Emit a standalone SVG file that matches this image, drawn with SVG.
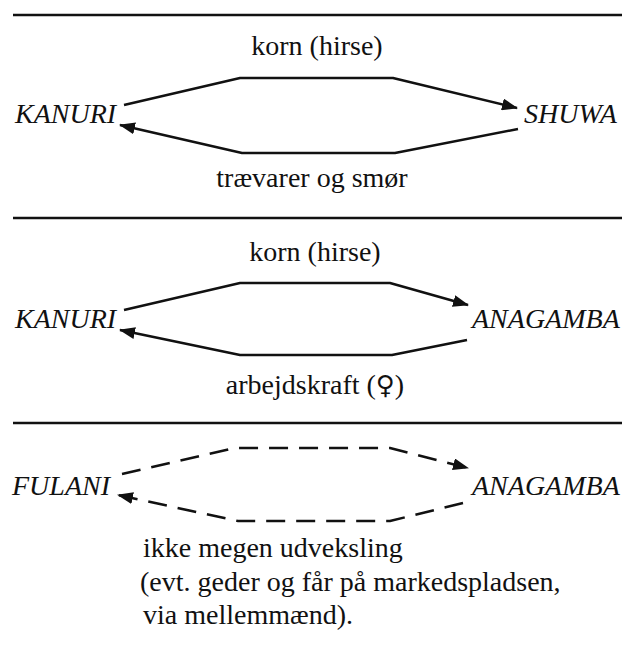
<svg xmlns="http://www.w3.org/2000/svg" width="628" height="646" viewBox="0 0 628 646">
  <style>
    .rule { stroke: #111; stroke-width: 2.5; }
    .flow { fill: none; stroke: #111; stroke-width: 2.5; stroke-linejoin: round; marker-end: url(#head); }
    .dash { stroke-dasharray: 19 11; }
    text { font-family: 'Liberation Serif', 'Times New Roman', Tinos, 'DejaVu Serif', serif; font-size: 28px; fill: #111; }
    .name { font-style: italic; }
    .sym { font-family: 'DejaVu Serif', 'DejaVu Sans', serif; font-size: 26px; }
  </style>
  <defs>
    <marker id="head" markerUnits="userSpaceOnUse" markerWidth="16" markerHeight="12" viewBox="0 0 16 12" refX="15" refY="6" orient="auto">
      <path d="M0,0 L16,6 L0,12 Z" fill="#111"/>
    </marker>
  </defs>
  <rect width="628" height="646" fill="#fff"/>

  <!-- separator rules -->
  <g id="rules">
    <line class="rule" x1="13" y1="15" x2="622" y2="15"/>
    <line class="rule" x1="13" y1="218" x2="622" y2="218"/>
    <line class="rule" x1="13" y1="423" x2="622" y2="423"/>
  </g>

  <!-- nodes -->
  <g id="kanuri-1"><text class="name" x="15" y="123">KANURI</text></g>
  <g id="shuwa"><text class="name" x="524" y="123">SHUWA</text></g>
  <g id="kanuri-2"><text class="name" x="15" y="328">KANURI</text></g>
  <g id="anagamba-1"><text class="name" x="472" y="328">ANAGAMBA</text></g>
  <g id="fulani"><text class="name" x="12" y="495">FULANI</text></g>
  <g id="anagamba-2"><text class="name" x="472" y="495">ANAGAMBA</text></g>

  <!-- connectors -->
  <g id="connectors">
    <polyline class="flow" points="124,105 240,78 393,78 517,108"/>
    <polyline class="flow" points="518,129 395,153 242,153 120,125"/>
    <polyline class="flow" points="124,310 240,283 390,283 468,305"/>
    <polyline class="flow" points="467,340 392,355 240,355 120,330"/>
    <polyline class="flow dash" points="122,474 235,448 390,448 468,468"/>
    <polyline class="flow dash" points="463,503 390,521 238,521 118,495"/>
  </g>

  <!-- connector labels -->
  <g id="labels">
    <text x="317" y="55" text-anchor="middle">korn (hirse)</text>
    <text x="312" y="187" text-anchor="middle">trævarer og smør</text>
    <text x="315" y="261" text-anchor="middle">korn (hirse)</text>
    <text x="315" y="394" text-anchor="middle">arbejdskraft (<tspan class="sym">♀</tspan>)</text>
    <text x="143" y="557">ikke megen udveksling</text>
    <text x="140" y="591">(evt. geder og får på markedspladsen,</text>
    <text x="143" y="624">via mellemmænd).</text>
  </g>
</svg>
